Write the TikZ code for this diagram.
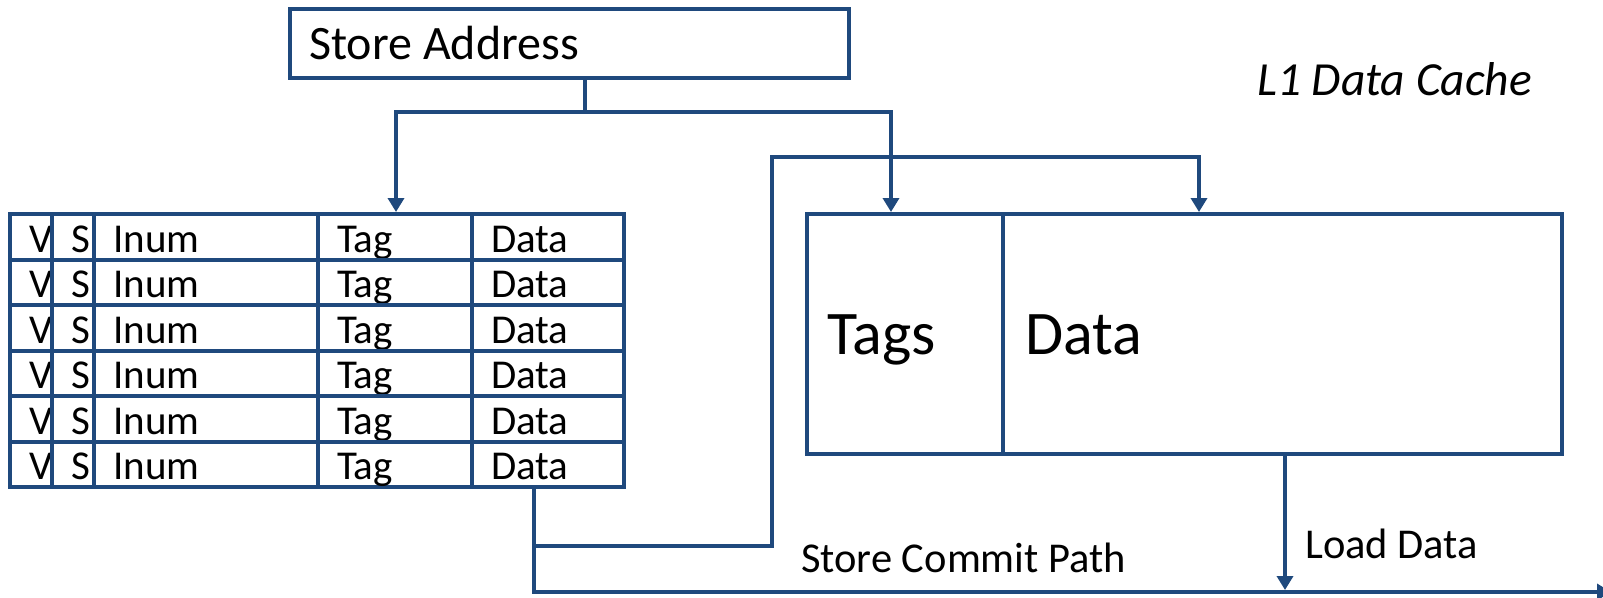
\documentclass[tikz,border=0pt]{standalone}
\usepackage{fontspec}
\setmainfont{Carlito}
\usetikzlibrary{arrows.meta,calc}
\definecolor{lnblue}{RGB}{31,73,125}
\begin{document}
\begin{tikzpicture}[x=1pt,y=-1pt,
  box/.style={draw=lnblue, line width=4pt, inner sep=0pt, outer sep=0pt, anchor=north west},
  wire/.style={draw=lnblue, line width=4pt},
  arr/.style={wire, -{Triangle[width=16pt,length=14pt]}, shorten >=2pt},
  txt/.style={inner sep=0pt, anchor=base west, text=black},
  tabfont/.style={font=\fontsize{41}{48}\selectfont},
  lblfont/.style={font=\fontsize{42.5}{50}\selectfont},
  bigfont/.style={font=\fontsize{62}{72}\selectfont}]
\useasboundingbox (0,0) rectangle (1603,597);

% Store Address box
\node[box, minimum width=559pt, minimum height=69pt] (sa) at (290,9) {};
\node[txt, font=\fontsize{48}{56}\selectfont] (satext) at (309,59) {Store Address};

% L1 Data Cache label
\node[txt, font=\fontsize{47.5}{56}\selectfont\itshape] (l1) at (1257,95) {L1 Data Cache};

% Store queue table
\foreach \r in {1,...,6} {
  \foreach \c/\xl/\xr/\t in {1/10/52/V, 2/52/94/S, 3/94/318/Inum, 4/318/472/Tag, 5/472/624/Data} {
    \pgfmathsetmacro\yt{214+45.5*(\r-1)}
    \pgfmathsetmacro\w{\xr-\xl}
    \node[box, minimum width=\w pt, minimum height=45.5pt] (c-\r-\c) at (\xl,\yt) {};
    \node[txt, tabfont] (t-\r-\c) at (\xl+19,\yt+38) {\t};
  }
}

% Cache
\node[box, minimum width=196pt, minimum height=240pt] (tags) at (807,214) {};
\node[box, minimum width=559pt, minimum height=240pt] (dat) at (1003,214) {};
\node[txt, bigfont] (tagstext) at (827,354) {Tags};
\node[txt, bigfont] (datatext) at (1025,354) {Data};

% Labels
\node[txt, lblfont] (commitlbl) at (801,572) {Store Commit Path};
\node[txt, lblfont] (loadlbl) at (1305,558) {Load Data};

% Coordinates
\coordinate (split) at (585,112);
\coordinate (commit) at (534,546);
\coordinate (bend) at (772,157);
\coordinate (outend) at (1613,592);

% Store address wires
\draw[wire] (sa.south -| split) -- (split);
\draw[arr] (split) -| (c-1-3.north -| 396,0);
\draw[arr] (split) -| (tags.north -| 891,0);

% Store commit path
\draw[arr] (c-6-5.south -| commit) |- (outend);
\draw[arr] (commit) -| (bend) -| (dat.north -| 1199,0);

% Load data
\draw[arr] (dat.south -| 1285,0) -- (outend -| 1285,0);
\end{tikzpicture}
\end{document}
